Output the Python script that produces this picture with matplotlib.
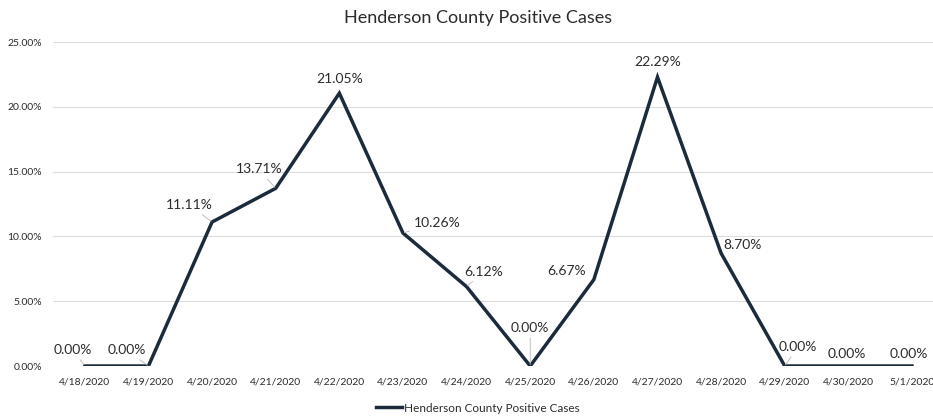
import matplotlib
matplotlib.use("Agg")
import matplotlib.pyplot as plt
from matplotlib.ticker import FuncFormatter

dates = ["4/18/2020", "4/19/2020", "4/20/2020", "4/21/2020", "4/22/2020", "4/23/2020",
         "4/24/2020", "4/25/2020", "4/26/2020", "4/27/2020", "4/28/2020", "4/29/2020",
         "4/30/2020", "5/1/2020"]
values = [0.00, 0.00, 11.11, 13.71, 21.05, 10.26, 6.12, 0.00, 6.67, 22.29, 8.70, 0.00, 0.00, 0.00]
label_offsets = [(-12, 16), (-22, 16), (-23, 17), (-17, 19), (0, 14), (34, 10), (17, 15),
                 (0, 38), (-27, 9), (0, 15), (21, 8), (13, 19), (-2, 12), (-3, 12)]
leaders = [True, True, True, True, False, True, True, True, False, False, False, True, False, False]
series_name = "Henderson County Positive Cases"
title = "Henderson County Positive Cases"

plt.rcParams['font.family'] = ['Lato', 'DejaVu Sans']
fig = plt.figure(figsize=(9.33, 4.2), dpi=100)
W, H = 933, 420
ax = fig.add_axes([53 / W, (H - 366) / H, 880 / W, (366 - 42) / H])

x = list(range(len(dates)))
line_color = "#1c2b3b"
text_color = "#2b2b2b"
ax.plot(x, values, color=line_color, lw=2.5, solid_joinstyle='miter', label=series_name, zorder=3)

for xi, v, off, ld in zip(x, values, label_offsets, leaders):
    kw = {}
    if ld:
        kw['arrowprops'] = dict(arrowstyle='-', color='#b5b5b5', lw=0.6, shrinkA=1, shrinkB=1)
    ax.annotate(f"{v:.2f}%", (xi, v), xytext=off, textcoords='offset pixels',
                ha='center', va='center', fontsize=10, color=text_color, zorder=4, **kw)

ax.set_xlim(-0.5, 13.33)
ax.set_ylim(0, 25)
ax.set_yticks([0, 5, 10, 15, 20, 25])
ax.yaxis.set_major_formatter(FuncFormatter(lambda v, p: f"{v:.2f}%"))
ax.set_xticks(x)
ax.set_xticklabels(dates)
ax.tick_params(axis='both', length=0, labelsize=7.5, colors=text_color)
ax.tick_params(axis='x', pad=8)
ax.tick_params(axis='y', pad=8)
ax.grid(axis='y', color='#dcdcdc', lw=0.8)
ax.set_axisbelow(True)
for s in ax.spines.values():
    s.set_visible(False)

fig.text(478 / W, 1 - 18 / H, title, ha='center', va='center', fontsize=13, color=text_color)
leg = fig.legend(loc='center', bbox_to_anchor=(478 / W, 1 - 408 / H), frameon=False,
                 fontsize=8.5, handlelength=2.2, handletextpad=0.2)
for t in leg.get_texts():
    t.set_color(text_color)

fig.savefig("out.png", dpi=100, facecolor='white')
